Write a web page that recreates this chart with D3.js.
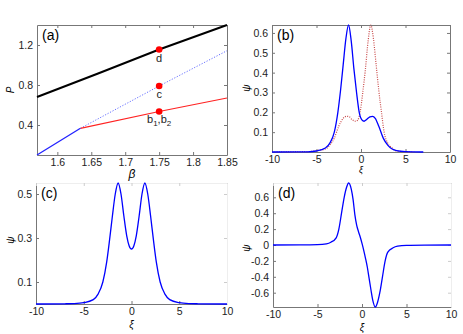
<!DOCTYPE html>
<html>
<head>
<meta charset="utf-8">
<script src="https://cdn.jsdelivr.net/npm/d3@7"></script>
<style>
  body { margin: 0; background: #fff; }
  svg { font-family: "Liberation Sans", Arial, sans-serif; }
  .tick text { font-size: 10.5px; fill: #222; }
  .domain { stroke: #777; }
  .tick line { stroke: #777; }
</style>
</head>
<body>
<svg width="463" height="334"></svg>
<script>
// ---- panel (a): P vs beta ----
const blackBeta = [1.57, 1.66, 1.75, 1.85];
const blackP = [0.68, 0.915, 1.155, 1.40];
const blueSolidBeta = [1.57, 1.634];
const blueSolidP = [0.10, 0.367];
const blueDotBeta = [1.634, 1.75, 1.85];
const blueDotP = [0.367, 0.79, 1.143];
const redBeta = [1.634, 1.75, 1.85];
const redP = [0.367, 0.535, 0.67];
const markBeta = [1.75, 1.75, 1.75];
const markP = [1.155, 0.79, 0.535];
const betaTicks = [1.6, 1.65, 1.7, 1.75, 1.8, 1.85];
const pTicks = [0.4, 0.8, 1.2];

// ---- panels (b,c,d): profiles psi(xi) ----
const xiB = [-10, -7, -6, -5, -4, -3.5, -3, -2.6, -2.3, -2, -1.7, -1.4, -1.1, -0.8, -0.5, -0.2, 0.1, 0.35, 0.6, 1, 1.3, 1.6, 2, 2.5, 3, 3.5, 4, 5, 7];
const psiBlue = [0, 0.0005, 0.001, 0.005, 0.02, 0.045, 0.1, 0.2, 0.31, 0.44, 0.57, 0.64, 0.56, 0.42, 0.3, 0.2, 0.162, 0.155, 0.163, 0.177, 0.18, 0.17, 0.13, 0.07, 0.035, 0.015, 0.007, 0.002, 0];
const xiR = [-10, -6, -5, -4, -3.5, -3, -2.5, -2, -1.6, -1.3, -1, -0.6, -0.35, -0.1, 0.2, 0.5, 0.8, 1.1, 1.4, 1.7, 2, 2.3, 2.6, 3, 3.5, 4, 5, 6];
const psiRed = [0, 0.002, 0.007, 0.015, 0.035, 0.07, 0.13, 0.17, 0.18, 0.177, 0.163, 0.155, 0.162, 0.2, 0.3, 0.42, 0.56, 0.64, 0.57, 0.44, 0.31, 0.2, 0.1, 0.045, 0.02, 0.005, 0.001, 0];
const xiC = [-10, -7, -6, -5, -4, -3.5, -3, -2.6, -2.3, -2, -1.7, -1.4, -1.1, -0.8, -0.5, -0.25, 0, 0.25, 0.5, 0.8, 1.1, 1.4, 1.7, 2, 2.3, 2.6, 3, 3.5, 4, 5, 6, 7, 10];
const psiC = [0, 0.001, 0.002, 0.006, 0.02, 0.045, 0.1, 0.19, 0.29, 0.4, 0.5, 0.55, 0.5, 0.4, 0.31, 0.265, 0.25, 0.265, 0.31, 0.4, 0.5, 0.55, 0.5, 0.4, 0.29, 0.19, 0.1, 0.045, 0.02, 0.006, 0.002, 0.001, 0];
const xiD = [-10, -7, -5, -4, -3.5, -2.9, -2.6, -2.3, -2, -1.75, -1.5, -1.2, -1, -0.8, -0.6, -0.4, -0.2, 0, 0.2, 0.4, 0.6, 0.8, 1, 1.2, 1.5, 1.75, 2, 2.3, 2.6, 2.9, 3.5, 4, 5, 7, 10];
const psiD = [0, 0.001, 0.004, 0.015, 0.035, 0.09, 0.2, 0.4, 0.6, 0.72, 0.78, 0.7, 0.57, 0.38, 0.25, 0.17, 0.1, 0.02, -0.07, -0.17, -0.28, -0.42, -0.56, -0.69, -0.78, -0.72, -0.6, -0.4, -0.2, -0.09, -0.035, -0.015, -0.004, -0.001, 0];
const xiTicks = [-10, -5, 0, 5, 10];
const psiTicksB = [0.1, 0.2, 0.3, 0.4, 0.5, 0.6];
const psiTicksC = [0.1, 0.3, 0.5];
const psiTicksD = [-0.6, -0.4, -0.2, 0, 0.2, 0.4, 0.6];

const svg = d3.select('svg');
const fmt = (d) => String(d);

function panel(o) {
  const x = d3.scaleLinear().domain(o.xd).range([o.x0, o.x1]);
  const y = d3.scaleLinear().domain(o.yd).range([o.y1, o.y0]);
  const g = svg.append('g');
  const frame = o.faint ? '#eee' : '#777';
  g.append('g').attr('transform', `translate(0,${o.y1})`)
    .call(d3.axisBottom(x).tickValues(o.xt).tickSize(-3).tickSizeOuter(0).tickPadding(4).tickFormat(fmt));
  g.append('g').attr('transform', `translate(${o.x0},0)`)
    .call(d3.axisLeft(y).tickValues(o.yt).tickSize(-3).tickSizeOuter(0).tickPadding(4).tickFormat(fmt));
  const top = g.append('g').attr('transform', `translate(0,${o.y0})`)
    .call(d3.axisTop(x).tickValues(o.xt).tickSize(-3).tickSizeOuter(0).tickFormat(''));
  const right = g.append('g').attr('transform', `translate(${o.x1},0)`)
    .call(d3.axisRight(y).tickValues(o.yt).tickSize(-3).tickSizeOuter(0).tickFormat(''));
  top.select('.domain').style('stroke', frame);
  right.select('.domain').style('stroke', frame);
  top.selectAll('.tick line').style('stroke', o.faint ? '#ccc' : '#777');
  right.selectAll('.tick line').style('stroke', o.faint ? '#ccc' : '#777');
  g.append('text').attr('x', o.x0 + 5).attr('y', o.y0 + 15)
    .attr('font-size', 14).text(o.tag);
  g.append('text').attr('transform', `translate(${o.ylx},${o.yly}) rotate(-90)`)
    .attr('text-anchor', 'middle').attr('font-size', 10).attr('font-style', 'italic').text(o.ylab);
  g.append('text').attr('x', (o.x0 + o.x1) / 2).attr('y', o.xly)
    .attr('text-anchor', 'middle').attr('font-size', o.xlfs).attr('font-style', 'italic').text(o.xlab);
  return { x, y, g };
}

function curve(p, xs, ys, color, width, dash, kind) {
  const line = d3.line().x((d) => p.x(d[0])).y((d) => p.y(d[1])).curve(kind || d3.curveLinear);
  p.g.append('path').datum(xs.map((v, i) => [v, ys[i]]))
    .attr('d', line).attr('fill', 'none').attr('stroke', color)
    .attr('stroke-width', width).attr('stroke-dasharray', dash || null);
}

// (a)
const pa = panel({ x0: 37, x1: 227, y0: 25, y1: 155, xd: [1.57, 1.85], yd: [0.1, 1.4],
  xt: betaTicks, yt: pTicks, tag: '(a)', ylab: 'P', ylx: 14, yly: 90, xlab: 'β', xly: 178, xlfs: 12 });
curve(pa, blackBeta, blackP, '#000', 2);
curve(pa, blueDotBeta, blueDotP, '#6670ff', 1, '1.2,1.6');
curve(pa, redBeta, redP, '#f22', 1.2);
curve(pa, blueSolidBeta, blueSolidP, '#22f', 1.3);
pa.g.selectAll('circle.mk').data(markBeta).join('circle').attr('class', 'mk')
  .attr('cx', (d) => pa.x(d)).attr('cy', (d, i) => pa.y(markP[i])).attr('r', 3.3).attr('fill', '#f00');
const tl = pa.g.append('g').attr('font-size', 11).attr('fill', '#222');
tl.append('text').attr('x', pa.x(1.75)).attr('y', pa.y(markP[0]) + 12).attr('text-anchor', 'middle').text('d');
tl.append('text').attr('x', pa.x(1.75)).attr('y', pa.y(markP[1]) + 12).attr('text-anchor', 'middle').text('c');
const bl = tl.append('text').attr('x', pa.x(1.75)).attr('y', pa.y(markP[2]) + 11).attr('text-anchor', 'middle');
bl.append('tspan').text('b');
bl.append('tspan').attr('dy', 3).attr('font-size', 8).text('1');
bl.append('tspan').attr('dy', -3).text(',b');
bl.append('tspan').attr('dy', 3).attr('font-size', 8).text('2');

// (b)
const pb = panel({ x0: 272, x1: 450, y0: 25, y1: 152, xd: [-10, 10], yd: [0, 0.64],
  xt: xiTicks, yt: psiTicksB, tag: '(b)', ylab: 'ψ', ylx: 250, yly: 88, xlab: 'ξ', xly: 173, xlfs: 9 });
curve(pb, xiR, psiRed, '#c84848', 1.2, '1,1.3', d3.curveMonotoneX);
curve(pb, xiB, psiBlue, '#00f', 1.3, null, d3.curveMonotoneX);

// (c)
const pc = panel({ x0: 36, x1: 227, y0: 183, y1: 304, xd: [-10, 10], yd: [0, 0.55], faint: true,
  xt: xiTicks, yt: psiTicksC, tag: '(c)', ylab: 'ψ', ylx: 14, yly: 240, xlab: 'ξ', xly: 328, xlfs: 10 });
curve(pc, xiC, psiC, '#00f', 1.3, null, d3.curveMonotoneX);

// (d)
const pd = panel({ x0: 273, x1: 451, y0: 183, y1: 307, xd: [-10, 10], yd: [-0.78, 0.78], faint: true,
  xt: xiTicks, yt: psiTicksD, tag: '(d)', ylab: 'ψ', ylx: 250, yly: 248, xlab: 'ξ', xly: 331, xlfs: 10 });
curve(pd, xiD, psiD, '#00f', 1.3, null, d3.curveMonotoneX);
</script>
</body>
</html>
